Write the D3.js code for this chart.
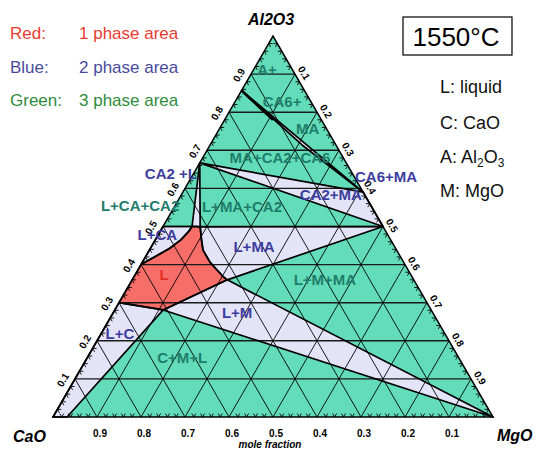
<!DOCTYPE html>
<html>
<head>
<meta charset="utf-8">
<script src="https://cdn.jsdelivr.net/npm/d3@7"></script>
<style>
  body { margin: 0; background: #fff; }
  svg { display: block; }
  text { font-family: "Liberation Sans", Arial, Helvetica, sans-serif; }
</style>
</head>
<body>
<svg id="chart" width="538" height="451"></svg>
<script>
// Compositions are [Al2O3, MgO] mole fractions; CaO = 1 - Al2O3 - MgO.

// grid / axis values
const gridValues = [0.1, 0.2, 0.3, 0.4, 0.5, 0.6, 0.7, 0.8, 0.9];
const gridLabels = ["0.1", "0.2", "0.3", "0.4", "0.5", "0.6", "0.7", "0.8", "0.9"];
const minorTicks = d3.range(1, 50).map(i => i / 50).filter(v => Math.round(v * 50) % 5 !== 0);

// invariant points
const ptCA6 = [0.857, 0.0];
const ptCA2 = [0.667, 0.0];
const ptCA = [0.5, 0.0];
const ptMA = [0.5, 0.5];
const ptSpinelMax = [0.59, 0.41];
const ptCaOss = [0.0, 0.032];
const ptMgO = [0.0, 1.0];

// liquid field boundary (single phase, 1550 °C)
const liquidTopLeft = [0.500, 0.066];
const liquidTopRight = [0.499, 0.085];
const liquidRightArc = [[0.499, 0.085], [0.465, 0.105], [0.438, 0.122], [0.406, 0.154], [0.368, 0.203], [0.360, 0.216]];
const liquidLeftArc = [[0.400, 0.0], [0.421, 0.022], [0.443, 0.044], [0.465, 0.058], [0.487, 0.065], [0.500, 0.066]];
const liquidMgOCorner = [0.360, 0.216];
const liquidCaOCorner = [0.281, 0.110];
const liquidCaOEdge = [0.300, 0.0];

// two-phase fields
const fieldCA6MA = [ptCA6, ptSpinelMax, [0.714, 0.209]];
const fieldCA2MA = [ptCA2, ptSpinelMax, ptMA];
const fieldCA2L = [ptCA2, liquidTopLeft, [0.5, 0.075], liquidTopRight];
const fieldLCA = [ptCA, ...liquidLeftArc.slice().reverse()];
const fieldLMA = [ptMA, ...liquidRightArc.slice().reverse()];
const fieldLM = [liquidCaOCorner, liquidMgOCorner, ptMgO];
const fieldLC = [[0, 0], liquidCaOEdge, liquidCaOCorner, ptCaOss];
const fieldL = [...liquidRightArc, liquidCaOCorner, liquidCaOEdge, ...liquidLeftArc, [0.5, 0.075]];

const twoPhaseFields = [fieldCA6MA, fieldCA2MA, fieldCA2L, fieldLCA, fieldLMA, fieldLM, fieldLC];
const onePhaseFields = [fieldL];

// field names and their composition anchors
const threePhaseNames = ["A+", "CA6+", "MA", "MA+CA2+CA6", "L+CA+CA2", "L+MA+CA2", "L+M+MA", "C+M+L"];
const threePhaseAt = [[0.911, 0.031], [0.829, 0.106], [0.758, 0.200], [0.680, 0.176], [0.556, -0.080], [0.551, 0.154], [0.360, 0.438], [0.155, 0.216]];
const twoPhaseNames = ["CA6+MA", "CA2+MA", "CA2 +L", "L+CA", "L+MA", "L+M", "L+C"];
const twoPhaseAt = [[0.630, 0.442], [0.583, 0.340], [0.638, -0.051], [0.478, -0.002], [0.446, 0.234], [0.273, 0.282], [0.220, 0.042]];
const onePhaseNames = ["L"];
const onePhaseAt = [[0.375, 0.065]];

// legend text
const legendKeys = ["Red:", "Blue:", "Green:"];
const legendTexts = ["1 phase area", "2 phase area", "3 phase area"];
const abbrevKeys = ["L: liquid", "C: CaO", "A: Al", "M: MgO"];

const colors = {
  green: "#63dcb9", blue: "#e4e4f8", red: "#f76e68",
  greenText: "#1f7d6c", blueText: "#3d3d9e", redText: "#e8302a",
  legend: ["#ea3b30", "#4a4a9c", "#2f8c3c"]
};

const svg = d3.select("#chart");
const sx = d3.scaleLinear().domain([0, 1]).range([53, 493]);
const sy = d3.scaleLinear().domain([0, 1]).range([417, 36]);
const P = d => [sx(d[1] + d[0] / 2), sy(d[0])];
const line = d3.line().x(d => P(d)[0]).y(d => P(d)[1]);
const closed = pts => line(pts) + "Z";

const corners = [[0, 0], [0, 1], [1, 0]];

// base: three-phase (green)
svg.append("path").attr("d", closed(corners)).attr("fill", colors.green);

// two-phase fields
svg.append("g").selectAll("path").data(twoPhaseFields).join("path")
  .attr("d", closed).attr("fill", colors.blue);

// liquid
svg.append("g").selectAll("path").data(onePhaseFields).join("path")
  .attr("d", closed).attr("fill", colors.red);

// grid
const grid = svg.append("g");
gridValues.forEach(v => {
  grid.append("path").attr("d", line([[v, 0], [v, 1 - v]]))
    .attr("stroke", "#1a1a1a").attr("stroke-width", 1.4).attr("fill", "none");
  grid.append("path").attr("d", line([[0, v], [1 - v, v]]))
    .attr("stroke", "#000").attr("stroke-width", 0.9).attr("fill", "none");
  grid.append("path").attr("d", line([[0, 1 - v], [1 - v, 0]]))
    .attr("stroke", "#000").attr("stroke-width", 0.9).attr("fill", "none");
});

// phase boundaries
const bnd = svg.append("g").attr("fill", "none").attr("stroke", "#000").attr("stroke-width", 1.7).attr("stroke-linejoin", "round");
[...twoPhaseFields, ...onePhaseFields].forEach(f => bnd.append("path").attr("d", closed(f)));
bnd.append("path").attr("d", line([ptCA6, [0.78, 0.11]])).attr("stroke-width", 2.6);

// triangle outline
svg.append("path").attr("d", closed(corners)).attr("fill", "none").attr("stroke", "#000").attr("stroke-width", 1.5);

// minor ticks on each edge
const ticks = svg.append("g").attr("stroke", "#000").attr("stroke-width", 0.9);
const tk = 0.009;
minorTicks.forEach(v => {
  // bottom edge (Al2O3 = 0)
  ticks.append("path").attr("d", line([[0, v], [tk, v]]));
  ticks.append("path").attr("d", line([[0, v], [tk, v - tk]]));
  // left edge (MgO = 0)
  ticks.append("path").attr("d", line([[v, 0], [v, tk]]));
  ticks.append("path").attr("d", line([[v, 0], [v - tk, tk]]));
  // right edge (CaO = 0)
  ticks.append("path").attr("d", line([[v, 1 - v], [v - tk, 1 - v]]));
  ticks.append("path").attr("d", line([[v, 1 - v], [v, 1 - v - tk]]));
});

// axis labels
const axisText = svg.append("g").attr("font-size", 10).attr("font-weight", "bold").attr("text-anchor", "middle");
gridValues.forEach((v, i) => {
  // CaO along bottom
  const b = P([0, 1 - v]);
  axisText.append("text").attr("x", b[0] + 3).attr("y", 437).text(gridLabels[i]);
  // Al2O3 along left edge
  const l = P([v, 0]);
  axisText.append("text").attr("transform", `translate(${l[0] - 12},${l[1] + 1}) rotate(-60)`)
    .attr("dy", "0.35em").text(gridLabels[i]);
  // MgO along right edge
  const r = P([1 - v, v]);
  axisText.append("text").attr("transform", `translate(${r[0] + 9},${r[1] - 1}) rotate(60)`)
    .attr("dy", "0.35em").text(gridLabels[i]);
});
svg.append("text").attr("x", 270).attr("y", 448).attr("text-anchor", "middle")
  .attr("font-size", 10).attr("font-style", "italic").attr("font-weight", "bold").text("mole fraction");

// component names
const comp = svg.append("g").attr("font-size", 16).attr("font-weight", "bold").attr("font-style", "italic");
comp.append("text").attr("x", 271).attr("y", 25).attr("text-anchor", "middle").text("Al2O3");
comp.append("text").attr("x", 13).attr("y", 442).text("CaO");
comp.append("text").attr("x", 497).attr("y", 441).text("MgO");

// field labels
function fieldLabels(names, at, fill) {
  svg.append("g").selectAll("text").data(names).join("text")
    .attr("x", (d, i) => P(at[i])[0]).attr("y", (d, i) => P(at[i])[1])
    .attr("dy", "0.36em").attr("text-anchor", "middle")
    .attr("font-size", 15).attr("font-weight", "bold").attr("fill", fill).text(d => d);
}
fieldLabels(threePhaseNames, threePhaseAt, colors.greenText);
fieldLabels(twoPhaseNames, twoPhaseAt, colors.blueText);
fieldLabels(onePhaseNames, onePhaseAt, colors.redText);

// legend
const lg = svg.append("g").attr("font-size", 17);
legendKeys.forEach((k, i) => {
  lg.append("text").attr("x", 10).attr("y", 39 + i * 33.5).attr("fill", colors.legend[i]).text(k);
  lg.append("text").attr("x", 79).attr("y", 39 + i * 33.5).attr("fill", colors.legend[i]).text(legendTexts[i]);
});

// temperature box
svg.append("rect").attr("x", 403).attr("y", 17).attr("width", 109).attr("height", 38)
  .attr("fill", "#fff").attr("stroke", "#000").attr("stroke-width", 1.2);
svg.append("text").attr("x", 456).attr("y", 46).attr("text-anchor", "middle")
  .attr("font-size", 26).text("1550°C");

// abbreviations
const ab = svg.append("g").attr("font-size", 18).attr("fill", "#111");
const abY = [93, 129, 163, 197];
abbrevKeys.forEach((k, i) => {
  const t = ab.append("text").attr("x", 440).attr("y", abY[i]).text(k);
  if (k === "A: Al") {
    t.append("tspan").attr("font-size", 12).attr("dy", 4).text("2");
    t.append("tspan").attr("dy", -4).text("O");
    t.append("tspan").attr("font-size", 12).attr("dy", 4).text("3");
  }
});
</script>
</body>
</html>
